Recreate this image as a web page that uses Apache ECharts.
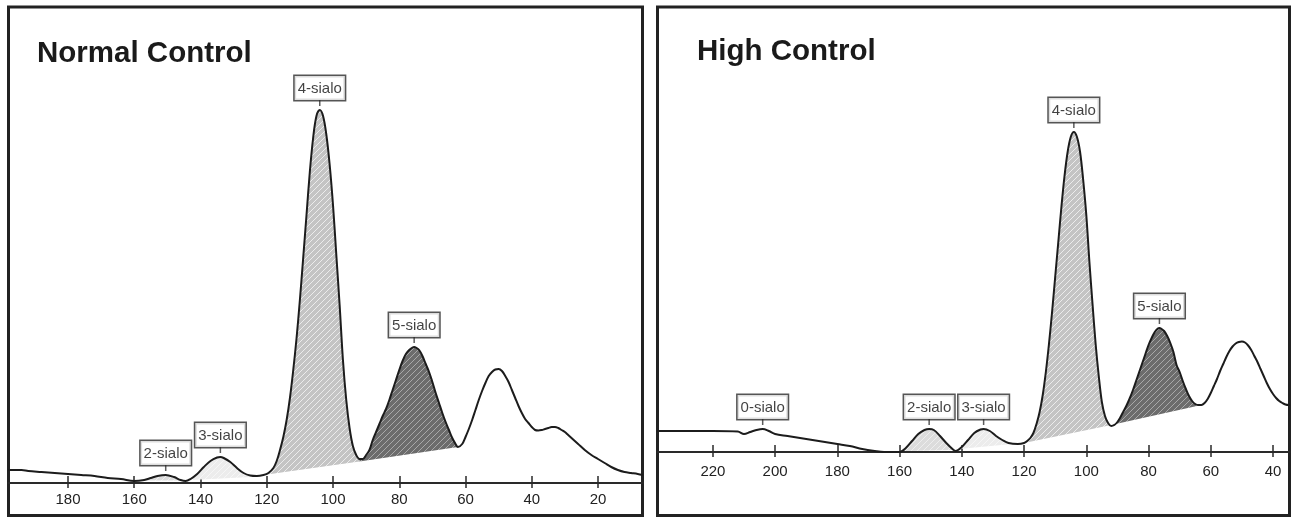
<!DOCTYPE html>
<html><head><meta charset="utf-8">
<script src="https://cdn.jsdelivr.net/npm/echarts@6/dist/echarts.min.js"></script>
<style>html,body{margin:0;padding:0;background:#fff}#c{width:1291px;height:518px}</style>
</head><body><div id="c"></div>
<script>
// ---------- DATA ----------
// Normal Control trace (x = elution scale, y = signal, arbitrary units)
const leftX = [198,194,192,188,184,180,176,172,168,164,160,157,155,153,150.5,148,146,144.5,143,141,139,137,135,134,133,131,129,127,125,123,121,119.5,118,117,116,115,114,113,112,111,110,109,108,107,106,105,104,103,102,101,100,99,98,97,96,95,94,93,92,91,90,89,88,87,86,85,84,83,82,81,80,79,78,77,76,75.5,75,74,73,72,71,70,69,68,67,66,65,64,63,62.3,61,60,59,58,57,56,55,54,53,52,51,50,49,48,47,46,45,44,43,42,41,40,39,38,37,36,35,34,33,32,31,30,29,28,26,24,22,20,18,16,14,12,10,8,6.5];
const leftY = [13,13,12,11,10,9,8,7,5,4,2,3,5,7,8,6,3,2,4,9,16,22,25.5,26,25,21,15,10,7.5,7,8,10,15,22,33,46,63,85,113,145,183,225,268,311,345,367,373,367,348,318,278,228,178,123,83,55,37,28,24,24,28,33,43,51,59,67,74,83,93,103,113,122,129,133,135.5,136,135.5,133,127,119,111,101,90,80,70,61,53,45,39,36,39,46,54,63,73,83,92,100,107,111,113.5,114,112,107,101,93,85,77,70,64,60,56,53,52.5,53,54,55,56,56,55,53,51,48,45,39,33,28,24,20,16,13,11,10,9,8];
// High Control trace
const rightX = [238,230,220,212,210,208,206,204,202,200,196,192,188,184,180,176,172,168,165,160,158,156,154,152,150.5,149,147,145,143,142,140,138,136,134,133,131,129,127,125,122,120,119,118,117,116,115,114,113,112,111,110,109,108,107,106,105,104,103,102,101,100,99,98,97,96,95,94,93,92,91,90,89,88,87,86,85,84,83,82,81,80,79,78,77,76.5,76,75,74,73,72,71,70,69,68,67,66,65,64,63,62,61,60,59,58,57,56,55,54,53,52,51,50,49,48,47,46,45,44,43,42,41,40,39,38,37,36,35,34.5];
const rightY = [21,21,21,20.5,18,20,22,23,21,18,16,14,12,10,8,6,3,1,0,0,4,11,18,22,23,22,16,9,3,1,5,12,19,22.5,23,21,16,12,9,8,9,11,14,19,28,40,57,80,108,140,175,210,245,276,300,315,320,315,300,272,237,190,148,108,76,50,36,29,26,27,30,35,41,47,54,62,71,80,89,98,107,114,120,123.5,124,123.5,121,116,109,100,87,80,71,63,56,51,48,47,47,49,53,59,66,73,81,88,95,101,105.5,108.5,110,110.5,109.5,106.5,102,96,90,83,76,69,63,58,54,51,49,47.5,47,47];

// Tick labels
const leftTicks = [180,160,140,120,100,80,60,40,20];
const rightTicks = [220,200,180,160,140,120,100,80,60,40];

// Peak annotations
const leftPeakNames = ['2-sialo','3-sialo','4-sialo','5-sialo'];
const leftPeakX = [150.5,134,104,75.5];
const leftPeakY = [8,26,373,136];
const rightPeakNames = ['0-sialo','2-sialo','3-sialo','4-sialo','5-sialo'];
const rightPeakX = [204,150.5,133,104,76.5];
const rightPeakY = [23,23,23,320,124];

// Integrated regions: start/end on x, baseline signal at start/end, shading kind
const leftRegFrom   = [157,143,121,92];
const leftRegTo     = [146,125,92,62.3];
const leftBaseFrom  = [2.5,3,8,21.5];
const leftBaseTo    = [2.5,6,21.5,36];
const leftRegKind   = ['pale','faint','light','dark'];
const rightRegFrom  = [159,141,120,92];
const rightRegTo    = [143,124,92,63];
const rightBaseFrom = [1,3,9,27];
const rightBaseTo   = [2,8,27,47];
const rightRegKind  = ['pale','faint','light','dark'];

const titles = ['Normal Control','High Control'];

// ---------- STYLE ----------
const FONT = "'Liberation Sans', Arial, sans-serif";
function hatch(bg, stripe, lw) {
  const s = 6, c = document.createElement('canvas');
  c.width = s; c.height = s;
  const g = c.getContext('2d');
  g.fillStyle = bg; g.fillRect(0, 0, s, s);
  g.strokeStyle = stripe; g.lineWidth = lw;
  g.beginPath();
  g.moveTo(-1, s + 1); g.lineTo(s + 1, -1);
  g.moveTo(-1, 1); g.lineTo(1, -1);
  g.moveTo(s - 1, s + 1); g.lineTo(s + 1, s - 1);
  g.stroke();
  return {image: c, repeat: 'repeat'};
}
const fills = {
  light: hatch('#c4c4c4', '#ececec', 1),
  dark: hatch('#6c6c6c', '#a8a8a8', 1),
  faint: hatch('#ececec', '#f6f6f6', 1),
  pale: hatch('#dcdcdc', '#eeeeee', 1)
};

function regionSeries(ai, xs, ys, from, to, bFrom, bTo, kind) {
  return {
    type: 'custom', xAxisIndex: ai * 2, yAxisIndex: ai, z: 1, silent: true, clip: true,
    data: from.map((f, i) => [f, bFrom[i]]),
    renderItem(params, api) {
      const i = params.dataIndex, hi = from[i], lo = to[i];
      const pts = [api.coord([hi, bFrom[i]])];
      for (let k = 0; k < xs.length; k++) {
        if (xs[k] <= hi && xs[k] >= lo) pts.push(api.coord([xs[k], ys[k]]));
      }
      pts.push(api.coord([lo, bTo[i]]));
      return {type: 'polygon', shape: {points: pts}, style: {fill: fills[kind[i]], stroke: null}};
    }
  };
}
function curveSeries(ai, xs, ys) {
  return {
    type: 'line', xAxisIndex: ai * 2, yAxisIndex: ai, z: 3, silent: true,
    data: xs.map((x, i) => [x, ys[i]]), showSymbol: false, symbol: 'none',
    smooth: 0.35, lineStyle: {color: '#1c1c1c', width: 2}
  };
}
function peakSeries(ai, names, xs, ys) {
  return {
    type: 'scatter', xAxisIndex: ai * 2, yAxisIndex: ai, z: 5, silent: true,
    data: names.map((n, i) => ({name: n, value: [xs[i], ys[i]]})),
    symbol: 'rect', symbolSize: [1.5, 6], symbolOffset: [0, -7],
    itemStyle: {color: '#333'},
    label: {show: true, position: 'top', distance: 0, formatter: '{b}',
      backgroundColor: '#fff', borderColor: '#2a2a2a', borderWidth: 1.5,
      padding: [4, 3, 3, 3], fontSize: 15, lineHeight: 17, color: '#111', fontFamily: FONT}
  };
}
// axis line sits inside the frame: offset moves it up from the frame bottom
function xAxes(gi, min, max, ticks, margin, offset) {
  const base = {gridIndex: gi, type: 'value', inverse: true, min: min, max: max, position: 'bottom',
    offset: offset, splitNumber: 10, splitLine: {show: false}};
  return [
    Object.assign({}, base, {
      axisLine: {show: true, onZero: false, lineStyle: {color: '#2a2a2a', width: 2}},
      axisTick: {show: true, inside: true, length: 7, customValues: ticks, lineStyle: {color: '#2a2a2a', width: 1.5}},
      axisLabel: {show: true, customValues: ticks, fontSize: 15, color: '#222', margin: margin, fontFamily: FONT}
    }),
    Object.assign({}, base, {
      axisLine: {show: false, onZero: false},
      axisTick: {show: true, inside: false, length: 5, customValues: ticks, lineStyle: {color: '#2a2a2a', width: 1.5}},
      axisLabel: {show: false}
    })
  ];
}

const chart = echarts.init(document.getElementById('c'), null, {renderer: 'canvas'});
chart.setOption({
  animation: false,
  backgroundColor: '#fff',
  title: [
    {text: titles[0], left: 37, top: 39, padding: 0, textStyle: {fontSize: 29.5, fontWeight: 'bold', color: '#1a1a1a', fontFamily: FONT}},
    {text: titles[1], left: 697, top: 37, padding: 0, textStyle: {fontSize: 29.5, fontWeight: 'bold', color: '#1a1a1a', fontFamily: FONT}}
  ],
  grid: [
    {left: 8.5, top: 7, width: 634, height: 508.5, show: true, borderColor: '#222', borderWidth: 3, backgroundColor: 'transparent', outerBoundsMode: 'none', containLabel: false},
    {left: 657.5, top: 7, width: 632, height: 508.5, show: true, borderColor: '#222', borderWidth: 3, backgroundColor: 'transparent', outerBoundsMode: 'none', containLabel: false}
  ],
  xAxis: [].concat(xAxes(0, 6.57, 197.96, leftTicks, 9, -32.5), xAxes(1, 34.7, 237.8, rightTicks, 12, -63.5)),
  yAxis: [
    {gridIndex: 0, type: 'value', min: -32.5, max: 476, show: false, splitLine: {show: false}},
    {gridIndex: 1, type: 'value', min: -63.5, max: 445, show: false, splitLine: {show: false}}
  ],
  series: [
    regionSeries(0, leftX, leftY, leftRegFrom, leftRegTo, leftBaseFrom, leftBaseTo, leftRegKind),
    curveSeries(0, leftX, leftY),
    peakSeries(0, leftPeakNames, leftPeakX, leftPeakY),
    regionSeries(1, rightX, rightY, rightRegFrom, rightRegTo, rightBaseFrom, rightBaseTo, rightRegKind),
    curveSeries(1, rightX, rightY),
    peakSeries(1, rightPeakNames, rightPeakX, rightPeakY)
  ]
});
</script></body></html>
